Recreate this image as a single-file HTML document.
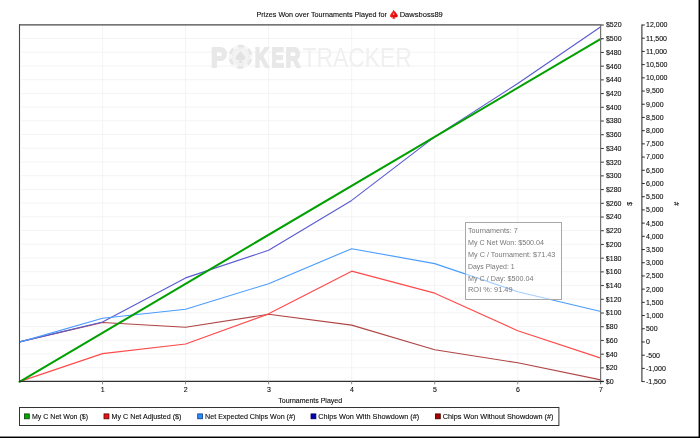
<!DOCTYPE html><html><head><meta charset="utf-8"><title>Prizes Won over Tournaments Played</title>
<style>html,body{margin:0;padding:0;background:#fff;overflow:hidden}body{position:relative;width:700px;height:438px}svg{display:block}#chart{filter:blur(0.3px)}#edge{position:absolute;left:0;top:0}text{font-family:"Liberation Sans", Arial, sans-serif;font-size:7px;fill:#0a0a0a;stroke:#0a0a0a;stroke-width:0.1px}</style>
</head><body>
<svg id="chart" width="700" height="438" viewBox="0 0 700 438">
<defs><linearGradient id="sg" x1="0" y1="0" x2="1" y2="1"><stop offset="0" stop-color="#ff6a40"/><stop offset="0.45" stop-color="#ee1010"/><stop offset="1" stop-color="#dd0000"/></linearGradient></defs>
<rect x="0" y="0" width="700" height="438" fill="#fff"/>
<path d="M21.00 367.68H599.80M21.00 353.97H599.80M21.00 340.25H599.80M21.00 326.54H599.80M21.00 312.82H599.80M21.00 299.11H599.80M21.00 285.39H599.80M21.00 271.68H599.80M21.00 257.96H599.80M21.00 244.25H599.80M21.00 230.53H599.80M21.00 216.82H599.80M21.00 203.10H599.80M21.00 189.38H599.80M21.00 175.67H599.80M21.00 161.95H599.80M21.00 148.24H599.80M21.00 134.52H599.80M21.00 120.81H599.80M21.00 107.09H599.80M21.00 93.38H599.80M21.00 79.66H599.80M21.00 65.95H599.80M21.00 52.23H599.80M21.00 38.52H599.80M102.54 24.80V381.40M185.59 24.80V381.40M268.63 24.80V381.40M351.67 24.80V381.40M434.71 24.80V381.40M517.76 24.80V381.40" stroke="#f3f3f3" stroke-width="0.9" fill="none"/>
<g id="wm">
<text transform="translate(211.10 66.7) scale(0.9354 1.0805)" style="font-size:25.5px;font-weight:bold;fill:#e8e8e8;stroke:#e8e8e8;stroke-width:1.8px">P</text>
<text transform="translate(254.72 66.6) scale(0.7684 1.0805)" style="font-size:25.5px;font-weight:bold;fill:#e8e8e8;stroke:#e8e8e8;stroke-width:1.8px">K</text>
<text transform="translate(271.45 66.6) scale(0.7385 1.0805)" style="font-size:25.5px;font-weight:bold;fill:#e8e8e8;stroke:#e8e8e8;stroke-width:1.8px">E</text>
<text transform="translate(285.49 66.6) scale(0.8108 1.0805)" style="font-size:25.5px;font-weight:bold;fill:#e8e8e8;stroke:#e8e8e8;stroke-width:1.8px">R</text>
<text transform="translate(302.58 66.74) scale(0.8456 1.0421)" style="font-size:27px;fill:#f0f0f0;stroke:none">TRACKER</text>
<circle cx="240.5" cy="56.7" r="12.0" fill="#f6f6f6"/>
<circle cx="240.5" cy="56.7" r="10.60" fill="none" stroke="#e6e6e6" stroke-width="2.8" stroke-dasharray="6.11 5.00" stroke-dashoffset="-2.50"/>
<circle cx="240.5" cy="56.7" r="8.10" fill="#f3f3f3" stroke="#e6e6e6" stroke-width="0.8" stroke-dasharray="1.6 1"/>
<path transform="translate(240.50 56.10) scale(0.68)" d="M0 -8C-2 -4 -7 -1 -7 3C-7 6 -3.5 7.5 -1 5C-1.2 7.5 -2 9 -4.5 10H4.5C2 9 1.2 7.5 1 5C3.5 7.5 7 6 7 3C7 -1 2 -4 0 -8Z" fill="#e2e2e2"/>
</g>
<polyline points="19.50,341.90 102.54,322.50 185.59,327.20 268.63,314.30 351.67,325.10 434.71,349.80 517.76,362.80 600.80,379.90" fill="none" stroke="#b04545" stroke-width="1.12" stroke-linejoin="round"/>
<polyline points="19.50,341.90 102.54,322.00 185.59,277.90 268.63,250.30 351.67,200.40 434.71,136.90 517.76,83.50 600.80,26.80" fill="none" stroke="#5a5ad0" stroke-width="1.12" stroke-linejoin="round"/>
<polyline points="19.50,342.10 102.54,318.30 185.59,309.20 268.63,283.70 351.67,248.70 434.71,263.60 517.76,291.70 600.80,311.50" fill="none" stroke="#4a9cff" stroke-width="1.12" stroke-linejoin="round"/>
<polyline points="19.50,381.60 102.54,353.65 185.59,344.05 268.63,313.85 351.67,271.15 434.71,293.15 517.76,330.75 600.80,358.15" fill="none" stroke="#ff4a4a" stroke-width="1.12" stroke-linejoin="round"/>
<line x1="19.50" y1="381.80" x2="600.80" y2="38.82" stroke="#00a000" stroke-width="2.0" stroke-linecap="round"/>
<path d="M19.00 24.80H601.20" stroke="#484848" stroke-width="1.2" fill="none"/>
<path d="M600.60 24.80V384.20" stroke="#727272" stroke-width="1.2" fill="none"/>
<path d="M19.50 24.30V381.90" stroke="#484848" stroke-width="1.1" fill="none"/>
<path d="M19.00 381.40H603.70" stroke="#303030" stroke-width="1.15" fill="none"/>
<path d="M102.54 381.40V384.30M185.59 381.40V384.30M268.63 381.40V384.30M351.67 381.40V384.30M434.71 381.40V384.30M517.76 381.40V384.30" stroke="#8a8a8a" stroke-width="1" fill="none"/>
<text x="102.74" y="391.6" text-anchor="middle">1</text>
<text x="185.79" y="391.6" text-anchor="middle">2</text>
<text x="268.83" y="391.6" text-anchor="middle">3</text>
<text x="351.87" y="391.6" text-anchor="middle">4</text>
<text x="434.91" y="391.6" text-anchor="middle">5</text>
<text x="517.96" y="391.6" text-anchor="middle">6</text>
<text x="601.00" y="391.6" text-anchor="middle">7</text>
<text x="310.2" y="403" text-anchor="middle">Tournaments Played</text>
<path d="M601.10 381.60H603.80M601.10 367.88H603.80M601.10 354.17H603.80M601.10 340.45H603.80M601.10 326.74H603.80M601.10 313.02H603.80M601.10 299.31H603.80M601.10 285.59H603.80M601.10 271.88H603.80M601.10 258.16H603.80M601.10 244.45H603.80M601.10 230.73H603.80M601.10 217.02H603.80M601.10 203.30H603.80M601.10 189.58H603.80M601.10 175.87H603.80M601.10 162.15H603.80M601.10 148.44H603.80M601.10 134.72H603.80M601.10 121.01H603.80M601.10 107.29H603.80M601.10 93.58H603.80M601.10 79.86H603.80M601.10 66.15H603.80M601.10 52.43H603.80M601.10 38.72H603.80M601.10 25.00H603.80" stroke="#1a1a1a" stroke-width="0.9" fill="none"/>
<g transform="rotate(0.02 606 200)">
<text x="605.9" y="384.00">$0</text>
<text x="605.9" y="370.28">$20</text>
<text x="605.9" y="356.57">$40</text>
<text x="605.9" y="342.85">$60</text>
<text x="605.9" y="329.14">$80</text>
<text x="605.9" y="315.42">$100</text>
<text x="605.9" y="301.71">$120</text>
<text x="605.9" y="287.99">$140</text>
<text x="605.9" y="274.28">$160</text>
<text x="605.9" y="260.56">$180</text>
<text x="605.9" y="246.85">$200</text>
<text x="605.9" y="233.13">$220</text>
<text x="605.9" y="219.42">$240</text>
<text x="605.9" y="205.70">$260</text>
<text x="605.9" y="191.98">$280</text>
<text x="605.9" y="178.27">$300</text>
<text x="605.9" y="164.55">$320</text>
<text x="605.9" y="150.84">$340</text>
<text x="605.9" y="137.12">$360</text>
<text x="605.9" y="123.41">$380</text>
<text x="605.9" y="109.69">$400</text>
<text x="605.9" y="95.98">$420</text>
<text x="605.9" y="82.26">$440</text>
<text x="605.9" y="68.55">$460</text>
<text x="605.9" y="54.83">$480</text>
<text x="605.9" y="41.12">$500</text>
<text x="605.9" y="27.40">$520</text>
</g>
<path d="M641.90 24.40V382.00" stroke="#2a2a2a" stroke-width="1.05" fill="none"/>
<path d="M641.90 381.60H644.80M641.90 368.39H644.80M641.90 355.19H644.80M641.90 341.98H644.80M641.90 328.77H644.80M641.90 315.56H644.80M641.90 302.36H644.80M641.90 289.15H644.80M641.90 275.94H644.80M641.90 262.73H644.80M641.90 249.53H644.80M641.90 236.32H644.80M641.90 223.11H644.80M641.90 209.90H644.80M641.90 196.70H644.80M641.90 183.49H644.80M641.90 170.28H644.80M641.90 157.07H644.80M641.90 143.87H644.80M641.90 130.66H644.80M641.90 117.45H644.80M641.90 104.24H644.80M641.90 91.04H644.80M641.90 77.83H644.80M641.90 64.62H644.80M641.90 51.41H644.80M641.90 38.21H644.80M641.90 25.00H644.80" stroke="#1a1a1a" stroke-width="0.9" fill="none"/>
<g transform="rotate(0.02 646 200)">
<text x="646.0" y="384.00">-1,500</text>
<text x="646.0" y="370.79">-1,000</text>
<text x="646.0" y="357.59">-500</text>
<text x="646.0" y="344.38">0</text>
<text x="646.0" y="331.17">500</text>
<text x="646.0" y="317.96">1,000</text>
<text x="646.0" y="304.76">1,500</text>
<text x="646.0" y="291.55">2,000</text>
<text x="646.0" y="278.34">2,500</text>
<text x="646.0" y="265.13">3,000</text>
<text x="646.0" y="251.93">3,500</text>
<text x="646.0" y="238.72">4,000</text>
<text x="646.0" y="225.51">4,500</text>
<text x="646.0" y="212.30">5,000</text>
<text x="646.0" y="199.10">5,500</text>
<text x="646.0" y="185.89">6,000</text>
<text x="646.0" y="172.68">6,500</text>
<text x="646.0" y="159.47">7,000</text>
<text x="646.0" y="146.27">7,500</text>
<text x="646.0" y="133.06">8,000</text>
<text x="646.0" y="119.85">8,500</text>
<text x="646.0" y="106.64">9,000</text>
<text x="646.0" y="93.44">9,500</text>
<text x="646.0" y="80.23">10,000</text>
<text x="646.0" y="67.02">10,500</text>
<text x="646.0" y="53.81">11,000</text>
<text x="646.0" y="40.61">11,500</text>
<text x="646.0" y="27.40">12,000</text>
</g>
<text transform="translate(632.1 203.9) rotate(-90)" text-anchor="middle">$</text>
<text transform="translate(678.7 203.9) rotate(-90)" text-anchor="middle">#</text>
<text x="256.4" y="17.1" textLength="130.5" lengthAdjust="spacingAndGlyphs">Prizes Won over Tournaments Played for</text>
<path d="M393.7 9.7C392.9 11.6 390 14 390 15.8C390 17.4 392 17.9 393.2 16.9C393.1 17.8 392.6 18.4 392 18.8H395.6C395 18.4 394.5 17.8 394.4 16.9C395.6 17.9 397.8 17.4 397.8 15.8C397.8 14 394.6 11.6 393.7 9.7Z" fill="url(#sg)"/>
<rect x="393" y="13.5" width="1.3" height="1.3" fill="#fff" fill-opacity="0.8"/>
<text x="399.7" y="17.1" textLength="43.1" lengthAdjust="spacingAndGlyphs">Dawsboss89</text>
<rect x="465.5" y="222.5" width="96" height="77" fill="#fff" fill-opacity="0.5" stroke="#a8a8a8" stroke-width="1"/>
<text x="468" y="233.20" style="font-size:7.7px;fill:#787878;stroke:none" textLength="49.7" lengthAdjust="spacingAndGlyphs">Tournaments: 7</text>
<text x="468" y="245.04" style="font-size:7.7px;fill:#787878;stroke:none" textLength="76.0" lengthAdjust="spacingAndGlyphs">My C Net Won: $500.04</text>
<text x="468" y="256.88" style="font-size:7.7px;fill:#787878;stroke:none" textLength="87.3" lengthAdjust="spacingAndGlyphs">My C / Tournament: $71.43</text>
<text x="468" y="268.72" style="font-size:7.7px;fill:#787878;stroke:none" textLength="46.6" lengthAdjust="spacingAndGlyphs">Days Played: 1</text>
<text x="468" y="280.56" style="font-size:7.7px;fill:#787878;stroke:none" textLength="65.5" lengthAdjust="spacingAndGlyphs">My C / Day: $500.04</text>
<text x="468" y="292.40" style="font-size:7.7px;fill:#787878;stroke:none" textLength="44.6" lengthAdjust="spacingAndGlyphs">ROI %: 91.49</text>
<rect x="19.5" y="407.5" width="539.4" height="18" fill="#fff" stroke="#333" stroke-width="1"/>
<rect x="24.40" y="413.9" width="4.9" height="4.9" fill="#00a800" stroke="#0a400a" stroke-width="0.8"/>
<text x="32.00" y="418.8" textLength="56.0" lengthAdjust="spacingAndGlyphs">My C Net Won ($)</text>
<rect x="104.00" y="413.9" width="4.9" height="4.9" fill="#f01010" stroke="#500" stroke-width="0.8"/>
<text x="111.60" y="418.8" textLength="69.8" lengthAdjust="spacingAndGlyphs">My C Net Adjusted ($)</text>
<rect x="197.70" y="413.9" width="4.9" height="4.9" fill="#2a8cff" stroke="#0a3a80" stroke-width="0.8"/>
<text x="205.10" y="418.8" textLength="90.2" lengthAdjust="spacingAndGlyphs">Net Expected Chips Won (#)</text>
<rect x="311.00" y="413.9" width="4.9" height="4.9" fill="#0000b4" stroke="#000050" stroke-width="0.8"/>
<text x="318.30" y="418.8" textLength="100.9" lengthAdjust="spacingAndGlyphs">Chips Won With Showdown (#)</text>
<rect x="435.40" y="413.9" width="4.9" height="4.9" fill="#a80000" stroke="#400" stroke-width="0.8"/>
<text x="442.80" y="418.8" textLength="110.7" lengthAdjust="spacingAndGlyphs">Chips Won Without Showdown (#)</text>
</svg>
<svg id="edge" width="700" height="438" viewBox="0 0 700 438"><rect x="698.55" y="0" width="1.45" height="438" fill="#000"/><rect x="0" y="436.55" width="700" height="1.45" fill="#000"/></svg>
</body></html>
